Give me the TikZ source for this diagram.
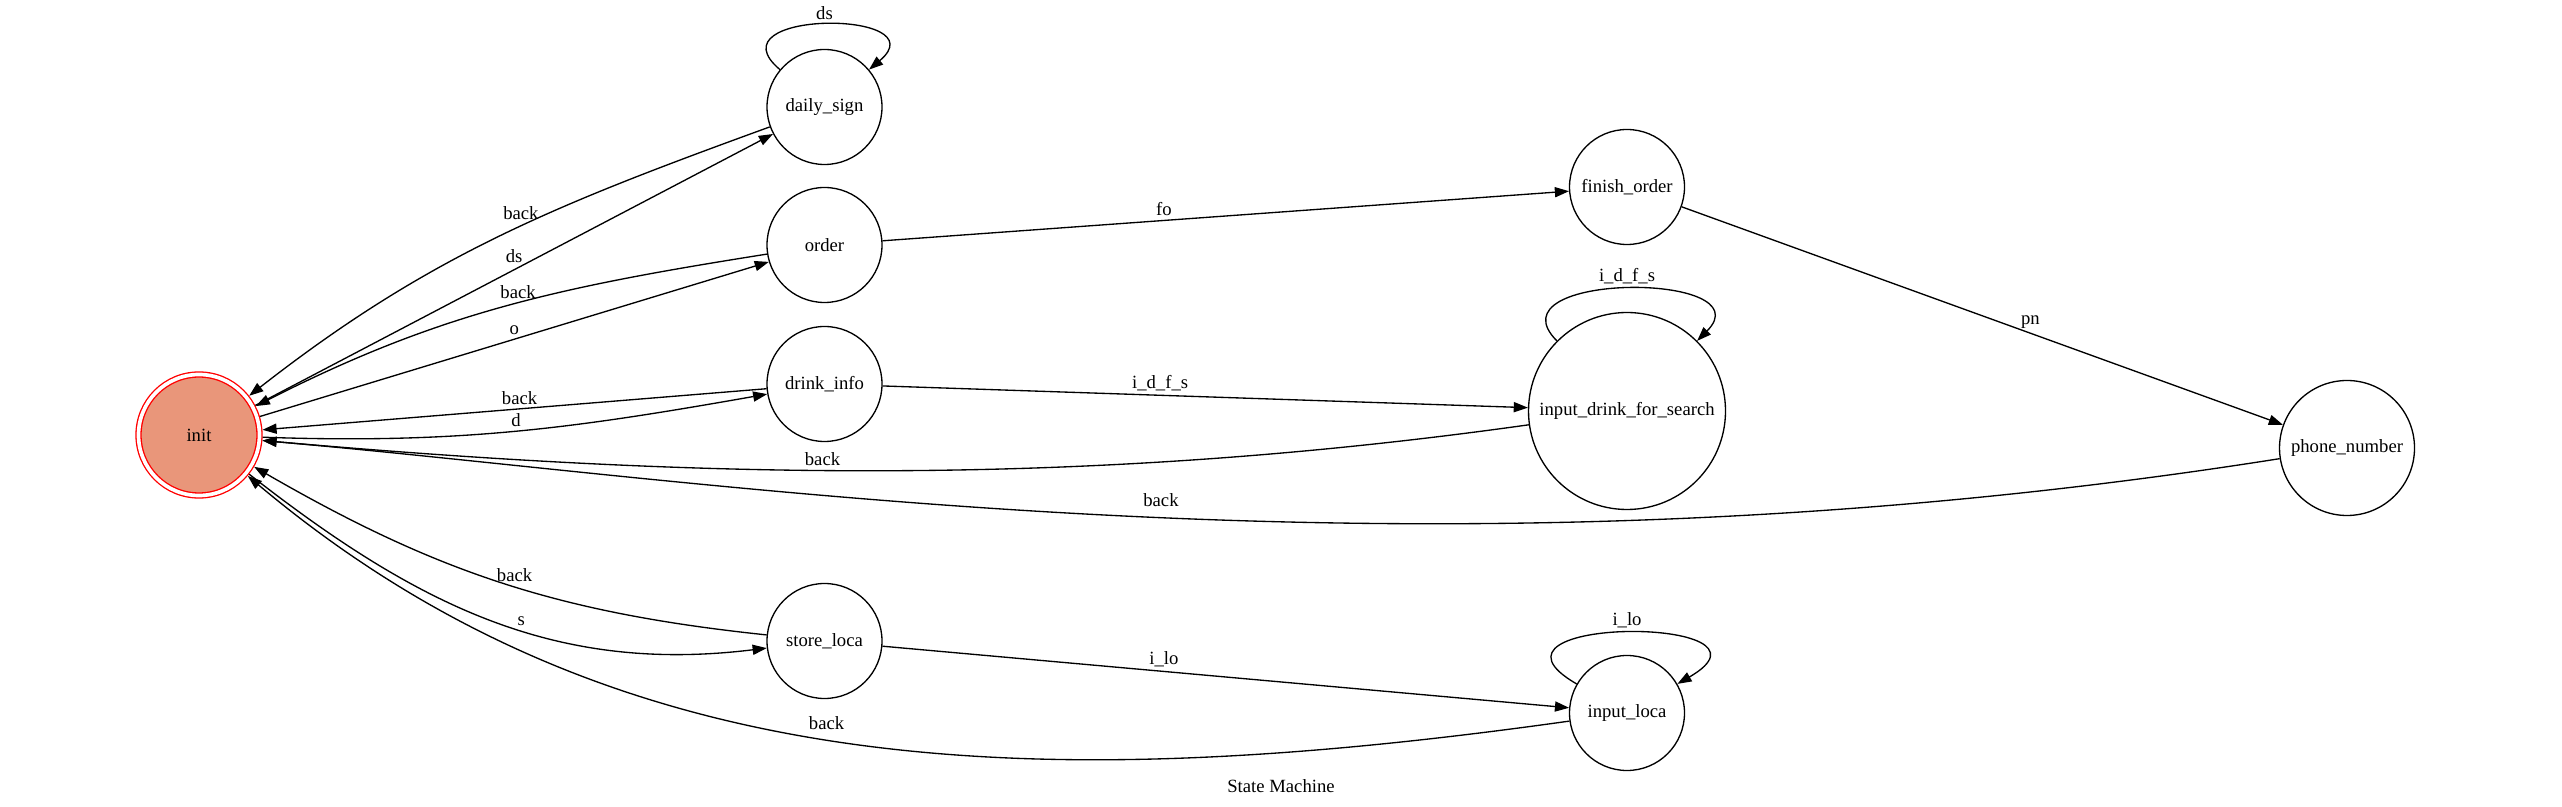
\documentclass[tikz,border=0pt]{standalone}
\usepackage{fontspec}
\setmainfont{Liberation Serif}
\usetikzlibrary{arrows.meta}
\definecolor{darksalmon}{RGB}{233,150,122}
\tikzset{l/.style={font=\fontsize{7}{7}\selectfont,inner sep=1.5pt}}
\tikzset{st/.style={circle,draw,minimum size=43.125pt,inner sep=0pt,font=\fontsize{7}{7}\selectfont}}
\tikzset{ini/.style={st,draw=red,fill=darksalmon,double=white,double distance=1.375pt,minimum size=45.375pt,outer sep=1.2pt}}

\begin{document}
\begin{tikzpicture}[x=0.375pt,y=0.375pt,line width=.5pt,>={Triangle[length=5.3pt,width=3.8pt]}]
  \useasboundingbox (0,0) rectangle (2562,-807);
  \node[ini] (I) at (199,-435) {init};
  \node[st] (DS) at (824.5,-107) {daily\_sign}
    edge [->, out=200, in=38] node [l, pos=.45, above=.8pt] {back} (I)
    edge [<-] node [l, pos=.5, above=.8pt] {ds} (I)
    edge [->, out=140, in=40, looseness=2.7] node [l, above] {ds} (DS);
  \node[st] (O) at (824.5,-245) {order}
    edge [->, out=189, in=27] node [l, pos=.47, above] {back} (I)
    edge [<-] node [l, pos=.5, above] {o} (I);
  \node[st] (DI) at (824.5,-384) {drink\_info}
    edge [->] node [l, pos=.49, above] {back} (I)
    edge [<-, out=190, in=-2] node [l, pos=.5, above] {d} (I);
  \node[st] (SL) at (824.5,-641) {store\_loca}
    edge [->, out=174, in=-30] node [l, pos=.47, above] {back} (I)
    edge [<-, out=187, in=-38] node [l, pos=.44, above] {s} (I);
  \node[st] (FO) at (1627,-187) {finish\_order}
    edge [<-] node [l, pos=.59, above] {fo} (O);
  \node[st, minimum size=73.875pt] (IDFS) at (1627,-411) {input\_drink\_for\_search}
    edge [<-] node [l, pos=.57, above] {i\_d\_f\_s} (DI)
    edge [->, out=188, in=-5, looseness=.9] node [l, pos=.56, above] {back} (I)
    edge [->, out=135, in=45, looseness=1.8] node [l, above] {i\_d\_f\_s} (IDFS);
  \node[st] (IL) at (1627,-713) {input\_loca}
    edge [<-] node [l, pos=.59, above] {i\_lo} (SL)
    edge [->, out=188, in=-40, out looseness=1.05, in looseness=.9] node [l, pos=.51, above=2pt] {back} (I)
    edge [->, out=150, in=30, looseness=3.5] node [l, above] {i\_lo} (IL);
  \node[st, minimum size=50.625pt] (PN) at (2347,-448) {phone\_number}
    edge [<-] node [l, pos=.42, above] {pn} (FO)
    edge [->, out=189, in=-5, out looseness=1.1, in looseness=.6] node [l, pos=.483, above=2.5pt] {back} (I);
  \node[l] (T) at (1281,-786) {State Machine};
\end{tikzpicture}
\end{document}
